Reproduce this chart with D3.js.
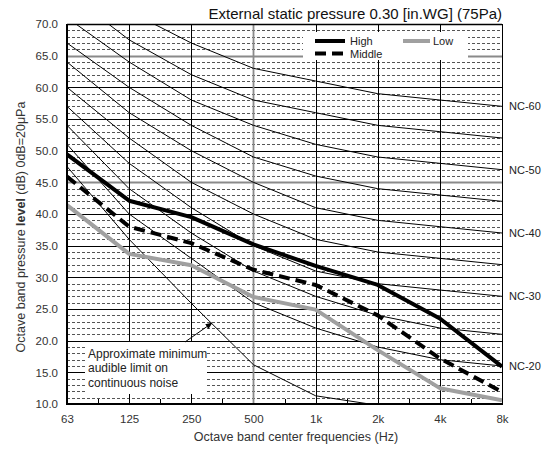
<!DOCTYPE html>
<html>
<head>
<meta charset="utf-8">
<script src="https://cdn.jsdelivr.net/npm/d3@7"></script>
<style>
  html, body { margin: 0; padding: 0; background: #fff; }
  svg { display: block; font-family: "Liberation Sans", Arial, sans-serif; }
</style>
</head>
<body>
<svg id="chart" width="549" height="450"></svg>
<script>
// ---------- data ----------
const freqs = ["63", "125", "250", "500", "1k", "2k", "4k", "8k"];
const yTicks = [10, 15, 20, 25, 30, 35, 40, 45, 50, 55, 60, 65, 70];

const high   = [49.4, 42.1, 39.5, 35.2, 31.8, 28.8, 23.5, 15.9];
const middle = [45.9, 38.0, 35.4, 31.2, 28.8, 24.0, 17.2, 11.9];
const low    = [41.4, 33.7, 31.9, 26.9, 24.9, 18.5, 12.5, 10.6];

const ncNames = ["NC-20", "NC-25", "NC-30", "NC-35", "NC-40", "NC-45", "NC-50", "NC-55", "NC-60"];
const nc20 = [51, 40, 33, 26, 22, 19, 17, 16];
const nc25 = [54, 44, 37, 31, 27, 24, 22, 21];
const nc30 = [57, 48, 41, 35, 31, 29, 28, 27];
const nc35 = [60, 52, 45, 40, 36, 34, 33, 32];
const nc40 = [64, 56, 50, 45, 41, 39, 38, 37];
const nc45 = [67, 60, 54, 49, 46, 44, 43, 42];
const nc50 = [71, 64, 58, 54, 51, 49, 48, 47];
const nc55 = [75, 67.5, 62, 58, 56, 54, 53, 52];
const nc60 = [77, 72, 67, 63, 61, 59, 58, 57];
const ncLabeled = ["NC-20", "NC-30", "NC-40", "NC-50", "NC-60"];

const audibleFreqs = ["63", "125", "250", "500", "1k", "2k"];
const audible = [47.5, 36.0, 25.9, 16.2, 11.3, 9.8];

const seriesNames = ["High", "Middle", "Low"];
const titleText = "External static pressure 0.30 [in.WG] (75Pa)";
const noteLines = ["Approximate minimum", "audible limit on", "continuous noise"];

// ---------- layout ----------
const svg = d3.select("#chart");
const L = 67, R = 502, T = 24, B = 404;
const x = d3.scalePoint().domain(freqs).range([L, R]);
const y = d3.scaleLinear().domain([10, 70]).range([B, T]);
const font = "'Liberation Sans', Arial, sans-serif";

svg.append("defs").append("clipPath").attr("id", "plotClip")
  .append("rect").attr("x", L).attr("y", T).attr("width", R - L).attr("height", B - T);

// grid: dashed 1 dB lines
const minor = d3.range(11, 70).filter(v => v % 5 !== 0);
const g = svg.append("g");
g.selectAll("line.minor").data(minor).join("line")
  .attr("x1", L).attr("x2", R)
  .attr("y1", d => Math.round(y(d)) + 0.5).attr("y2", d => Math.round(y(d)) + 0.5)
  .attr("stroke", "#555").attr("stroke-width", 1).attr("stroke-dasharray", "3,2");

// solid 5 dB lines
const grayLevels = [65, 45];
g.selectAll("line.major").data(yTicks.filter(v => v > 10 && v < 70)).join("line")
  .attr("x1", L).attr("x2", R)
  .attr("y1", d => Math.round(y(d)) + 0.5).attr("y2", d => Math.round(y(d)) + 0.5)
  .attr("stroke", d => grayLevels.includes(d) ? "#8a8a8a" : "#000")
  .attr("stroke-width", d => grayLevels.includes(d) ? 1.8 : 1);

// vertical octave lines
g.selectAll("line.vert").data(freqs.slice(1)).join("line")
  .attr("x1", d => Math.round(x(d)) + 0.5).attr("x2", d => Math.round(x(d)) + 0.5)
  .attr("y1", T).attr("y2", B)
  .attr("stroke", d => d === "500" ? "#8a8a8a" : "#000")
  .attr("stroke-width", d => d === "500" ? 1.8 : 1);

// top border
g.append("line").attr("x1", L).attr("x2", R).attr("y1", T + 0.5).attr("y2", T + 0.5)
  .attr("stroke", "#000").attr("stroke-width", 1.3);

// minor ticks at bottom (between octaves)
const mids = freqs.slice(1).map((f, i) => (x(freqs[i]) + x(f)) / 2);
g.selectAll("line.mtick").data(mids).join("line")
  .attr("x1", d => Math.round(d) + 0.5).attr("x2", d => Math.round(d) + 0.5)
  .attr("y1", B - 5).attr("y2", B)
  .attr("stroke", "#000").attr("stroke-width", 1);

// ---------- NC curves ----------
const ncData = [nc20, nc25, nc30, nc35, nc40, nc45, nc50, nc55, nc60];
const lineGen = d3.line().x((d, i) => x(freqs[i])).y(d => y(d));
const curves = svg.append("g").attr("clip-path", "url(#plotClip)");
curves.selectAll("path.nc").data(ncData).join("path")
  .attr("d", d => lineGen(d))
  .attr("fill", "none").attr("stroke", "#000").attr("stroke-width", 1);

const audGen = d3.line().x((d, i) => x(audibleFreqs[i])).y(d => y(d));
curves.append("path").attr("d", audGen(audible))
  .attr("fill", "none").attr("stroke", "#000").attr("stroke-width", 1);

// legend box (white, hides grid)
svg.append("rect").attr("x", 303).attr("y", 32).attr("width", 165).attr("height", 28).attr("fill", "#fff");

// annotation box
svg.append("rect").attr("x", 85).attr("y", 342).attr("width", 122).attr("height", 52).attr("fill", "#fff");

// ---------- series ----------
const sg = svg.append("g").attr("clip-path", "url(#plotClip)");
sg.append("path").attr("d", lineGen(low)).attr("fill", "none")
  .attr("stroke", "#a0a0a0").attr("stroke-width", 4).attr("stroke-linejoin", "round");
sg.append("path").attr("d", lineGen(middle)).attr("fill", "none")
  .attr("stroke", "#000").attr("stroke-width", 4).attr("stroke-dasharray", "11,6");
sg.append("path").attr("d", lineGen(high)).attr("fill", "none")
  .attr("stroke", "#000").attr("stroke-width", 4).attr("stroke-linejoin", "round");

// axes lines
svg.append("line").attr("x1", L).attr("x2", L).attr("y1", T).attr("y2", B + 1)
  .attr("stroke", "#000").attr("stroke-width", 2);
svg.append("line").attr("x1", L - 1).attr("x2", R + 1).attr("y1", B).attr("y2", B)
  .attr("stroke", "#000").attr("stroke-width", 2);

// ---------- axis labels ----------
const yAxis = d3.axisLeft(y).tickValues(yTicks).tickFormat(d3.format(".1f")).tickSize(0).tickPadding(9);
const ya = svg.append("g").attr("transform", `translate(${L},0)`).call(yAxis);
ya.select(".domain").remove();
ya.selectAll("text").attr("font-size", 11.5).attr("font-family", font).attr("fill", "#333");

const xAxis = d3.axisBottom(x).tickSize(0).tickPadding(11);
const xa = svg.append("g").attr("transform", `translate(0,${B})`).call(xAxis);
xa.select(".domain").remove();
xa.selectAll("text").attr("font-size", 11.5).attr("font-family", font).attr("fill", "#333");

// NC labels
svg.selectAll("text.nclab").data(ncLabeled).join("text")
  .attr("x", R + 7)
  .attr("y", d => y(ncData[ncNames.indexOf(d)][7]))
  .attr("dy", "0.35em")
  .attr("font-size", 11).attr("fill", "#222")
  .text(d => d);

// title
svg.append("text").attr("x", R).attr("y", 19).attr("text-anchor", "end")
  .attr("font-size", 15).attr("fill", "#111").text(titleText);

// y-axis title
const yt = svg.append("text").attr("transform", "translate(25,227) rotate(-90)")
  .attr("text-anchor", "middle").attr("font-size", 12.5).attr("fill", "#333");
yt.append("tspan").text("Octave band pressure ");
yt.append("tspan").attr("font-weight", "bold").text("level");
yt.append("tspan").text(" (dB) 0dB=20μPa");

// x-axis title
svg.append("text").attr("x", 296).attr("y", 441).attr("text-anchor", "middle")
  .attr("font-size", 12.5).attr("fill", "#333").text("Octave band center frequencies (Hz)");

// legend
const leg = svg.append("g");
leg.append("line").attr("x1", 315).attr("x2", 345).attr("y1", 41).attr("y2", 41)
  .attr("stroke", "#000").attr("stroke-width", 4);
leg.append("text").attr("x", 350).attr("y", 44.5).attr("font-size", 11).attr("fill", "#222").text(seriesNames[0]);
leg.append("line").attr("x1", 315).attr("x2", 345).attr("y1", 53.5).attr("y2", 53.5)
  .attr("stroke", "#000").attr("stroke-width", 4).attr("stroke-dasharray", "11,6");
leg.append("text").attr("x", 350).attr("y", 57.5).attr("font-size", 11).attr("fill", "#222").text(seriesNames[1]);
leg.append("line").attr("x1", 403).attr("x2", 430).attr("y1", 41).attr("y2", 41)
  .attr("stroke", "#a0a0a0").attr("stroke-width", 4);
leg.append("text").attr("x", 433).attr("y", 44.5).attr("font-size", 11).attr("fill", "#222").text(seriesNames[2]);

// annotation text
svg.selectAll("text.note").data(noteLines).join("text")
  .attr("x", 88).attr("y", (d, i) => 358 + i * 14.3)
  .attr("font-size", 12).attr("fill", "#222").text(d => d);

// arrow
svg.append("defs").append("marker").attr("id", "arr")
  .attr("viewBox", "0 0 10 10").attr("refX", 9).attr("refY", 5)
  .attr("markerWidth", 7).attr("markerHeight", 7).attr("orient", "auto")
  .append("path").attr("d", "M0,1 L10,5 L0,9 Z").attr("fill", "#000");
svg.append("line").attr("x1", 185).attr("y1", 342).attr("x2", 212).attr("y2", 323)
  .attr("stroke", "#000").attr("stroke-width", 1).attr("marker-end", "url(#arr)");
</script>
</body>
</html>
